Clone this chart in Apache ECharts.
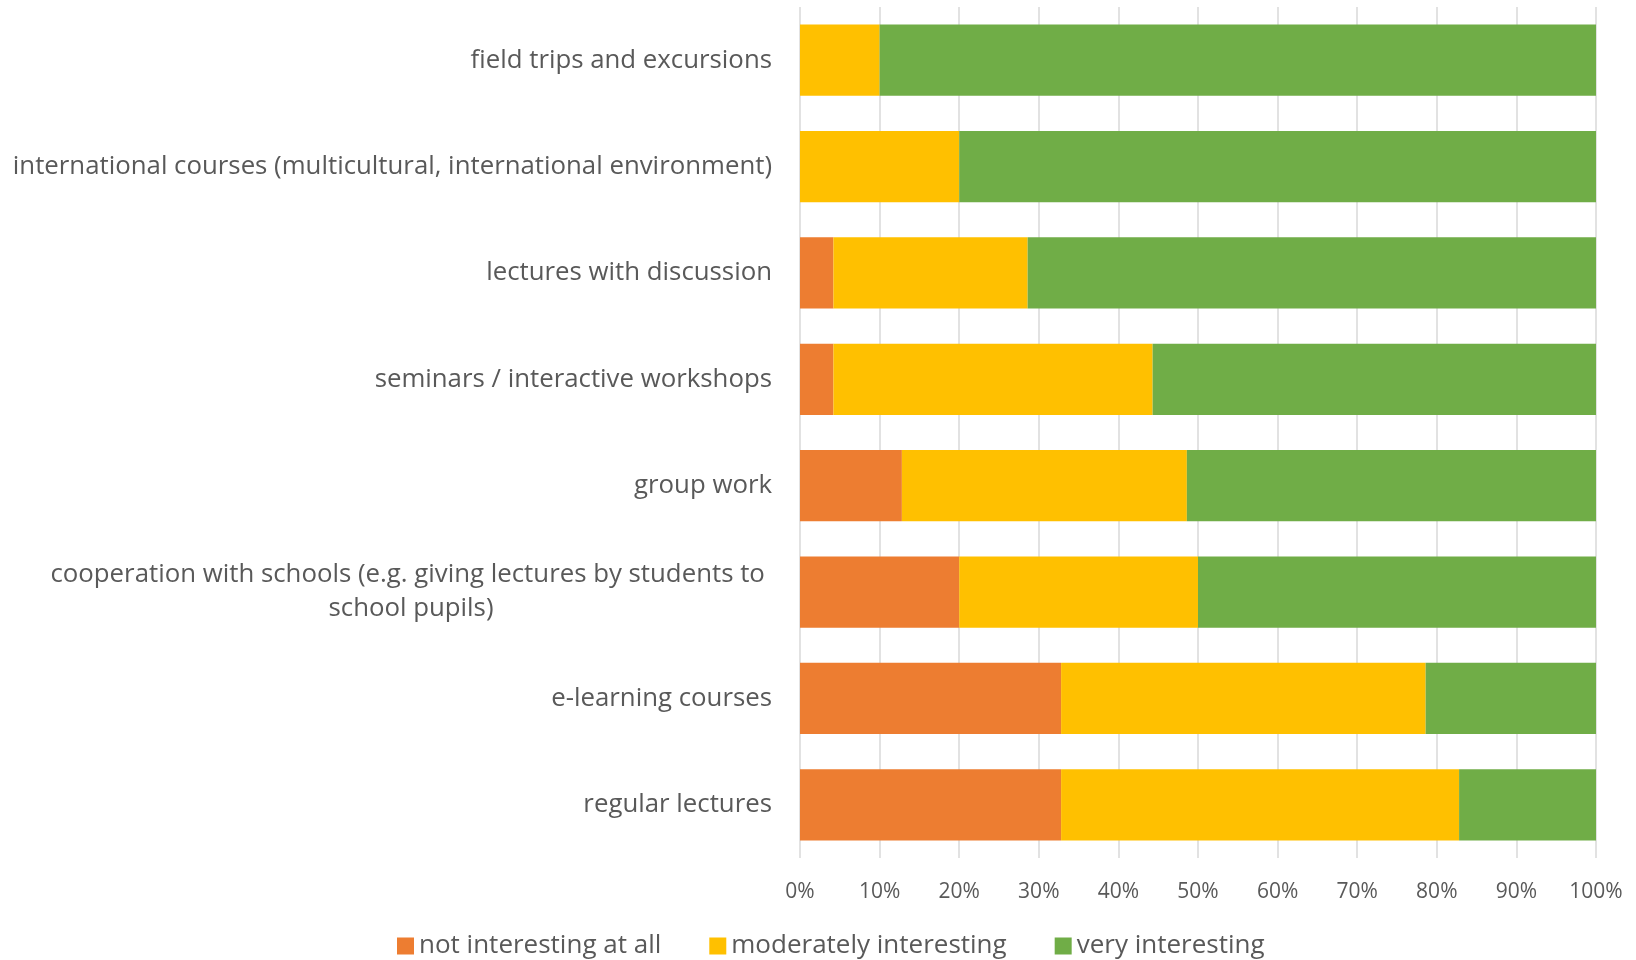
<!DOCTYPE html>
<html>
<head>
<meta charset="utf-8">
<script src="https://cdn.jsdelivr.net/npm/echarts@6/dist/echarts.min.js"></script>
<style>
html,body{margin:0;padding:0;background:#fff;}
#chart{width:1636px;height:960px;}
</style>
</head>
<body>
<div id="chart"></div>
<script>
var categories = [
  "field trips and excursions",
  "international courses (multicultural, international environment)",
  "lectures with discussion",
  "seminars / interactive workshops",
  "group work",
  "cooperation with schools (e.g. giving lectures by students to \nschool pupils)",
  "e-learning courses",
  "regular lectures"
];
var notInteresting = [0, 0, 4.2, 4.2, 12.8, 20.0, 32.8, 32.8];
var moderatelyInteresting = [10.0, 20.0, 24.4, 40.1, 35.8, 30.0, 45.8, 50.0];
var veryInteresting = [90.0, 80.0, 71.4, 55.7, 51.4, 50.0, 21.4, 17.2];
var seriesNames = ["not interesting at all", "moderately interesting", "very interesting"];
var xTicks = [0, 10, 20, 30, 40, 50, 60, 70, 80, 90, 100];

var FONT = "'Open Sans', sans-serif";
var chart = echarts.init(document.getElementById('chart'));
function mk(name, data, color) {
  return {
    name: name, type: 'bar', stack: 'total', data: data,
    barCategoryGap: '33%',
    itemStyle: { color: color },
    emphasis: { disabled: true }
  };
}
chart.setOption({
  animation: false,
  textStyle: { fontFamily: FONT },
  grid: { left: 800, right: 40, top: 7, bottom: 102, containLabel: false },
  xAxis: {
    type: 'value', min: xTicks[0], max: xTicks[xTicks.length - 1], interval: 10,
    axisLabel: { formatter: '{value}%', color: '#595959', fontSize: 21, margin: 24, fontFamily: FONT },
    splitLine: { show: true, lineStyle: { color: '#d9d9d9', width: 1.5 } },
    axisLine: { show: false }, axisTick: { show: false }
  },
  yAxis: {
    type: 'category', data: categories, inverse: true,
    axisLine: { show: false }, axisTick: { show: false },
    axisLabel: {
      color: '#595959', fontSize: 25.8, margin: 28, fontFamily: FONT, lineHeight: 34,
      formatter: function (v) {
        if (v.indexOf('\n') >= 0) {
          return v.split('\n').map(function (s) { return '{w|' + s + '}'; }).join('\n');
        }
        return v;
      },
      rich: { w: { width: 722, align: 'center', fontSize: 25.8, color: '#595959', fontFamily: FONT, lineHeight: 34 } }
    }
  },
  legend: {
    bottom: -4, left: 392,
    itemWidth: 17, itemHeight: 17, itemGap: 48,
    icon: 'rect',
    textStyle: { color: '#595959', fontSize: 26, fontFamily: FONT },
    data: seriesNames
  },
  series: [
    mk(seriesNames[0], notInteresting, '#ED7D31'),
    mk(seriesNames[1], moderatelyInteresting, '#FFC000'),
    mk(seriesNames[2], veryInteresting, '#70AD47')
  ]
});
</script>
</body>
</html>
